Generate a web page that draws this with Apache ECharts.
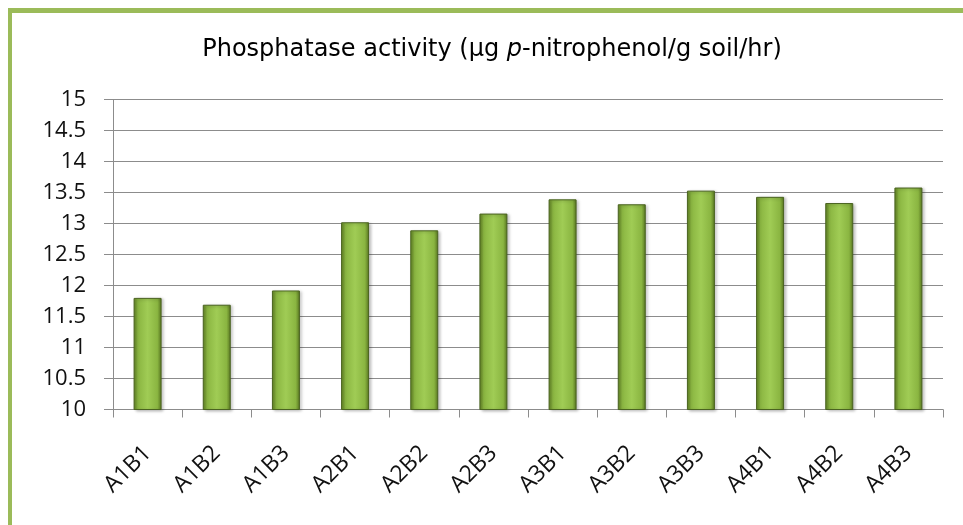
<!DOCTYPE html>
<html>
<head>
<meta charset="utf-8">
<script src="https://cdn.jsdelivr.net/npm/echarts@6/dist/echarts.min.js"></script>
<style>
html,body{margin:0;padding:0;background:#fff;}
#frame{position:absolute;left:8px;top:8px;width:970px;height:540px;border-left:4px solid #9BBB59;border-top:5px solid #9BBB59;box-sizing:border-box;}
#chart{position:absolute;left:0;top:0;width:963px;height:525px;}
</style>
</head>
<body>
<div id="frame"></div>
<div id="chart"></div>
<script>
var categories = ['A1B1','A1B2','A1B3','A2B1','A2B2','A2B3','A3B1','A3B2','A3B3','A4B1','A4B2','A4B3'];
var values = [11.8, 11.69, 11.92, 13.02, 12.89, 13.16, 13.39, 13.31, 13.53, 13.43, 13.33, 13.58];
var yTicks = [10, 10.5, 11, 11.5, 12, 12.5, 13, 13.5, 14, 14.5, 15];
var titleText = 'Phosphatase activity (μg {i|p}-nitrophenol/g soil/hr)';

var chart = echarts.init(document.getElementById('chart'), null, {renderer:'canvas'});
var font = '"Open Sans", sans-serif';
var tfont = '"DejaVu Sans", sans-serif';
chart.setOption({
  backgroundColor: 'transparent',
  animation: false,
  graphic: [{
    type: 'text',
    x: 492, y: 50,
    style: {
      text: titleText,
      x: 0, y: 0,
      align: 'center', verticalAlign: 'middle',
      fontFamily: tfont, fontSize: 24, fill: '#000',
      rich: { i: { fontFamily: tfont, fontSize: 24, fontStyle: 'italic', fill: '#000' } }
    }
  }],
  grid: { left: 113, right: 20, top: 99.5, bottom: 115.5, containLabel: false },
  xAxis: {
    type: 'category',
    data: categories,
    axisLine: { lineStyle: { color: '#8c8c8c', width: 1 } },
    axisTick: { show: true, length: 8, lineStyle: { color: '#8c8c8c' } },
    axisLabel: { rotate: 45, fontFamily: font, fontSize: 23, color: '#111', margin: 40 }
  },
  yAxis: {
    type: 'value',
    min: 10, max: 15, interval: 0.5,
    axisLine: { show: true, lineStyle: { color: '#8c8c8c', width: 1 } },
    axisTick: { show: true, length: 9, lineStyle: { color: '#8c8c8c' } },
    splitLine: { show: true, lineStyle: { color: '#8c8c8c', width: 1 } },
    axisLabel: {
      fontFamily: font, fontSize: 22, color: '#111', margin: 27,
      formatter: function (v) { return yTicks.indexOf(v) >= 0 ? String(v) : ''; }
    }
  },
  series: [{
    type: 'bar',
    data: values,
    barWidth: 28,
    itemStyle: {
      color: new echarts.graphic.LinearGradient(0, 0, 1, 0, [
        { offset: 0, color: '#5f7f22' },
        { offset: 0.15, color: '#8ab541' },
        { offset: 0.5, color: '#a0cc55' },
        { offset: 0.85, color: '#8ab541' },
        { offset: 1, color: '#56731f' }
      ]),
      borderColor: '#4a6320',
      borderWidth: 1,
      shadowColor: 'rgba(0,0,0,0.25)',
      shadowBlur: 3,
      shadowOffsetX: 2,
      shadowOffsetY: 1
    }
  }]
});
</script>
</body>
</html>
